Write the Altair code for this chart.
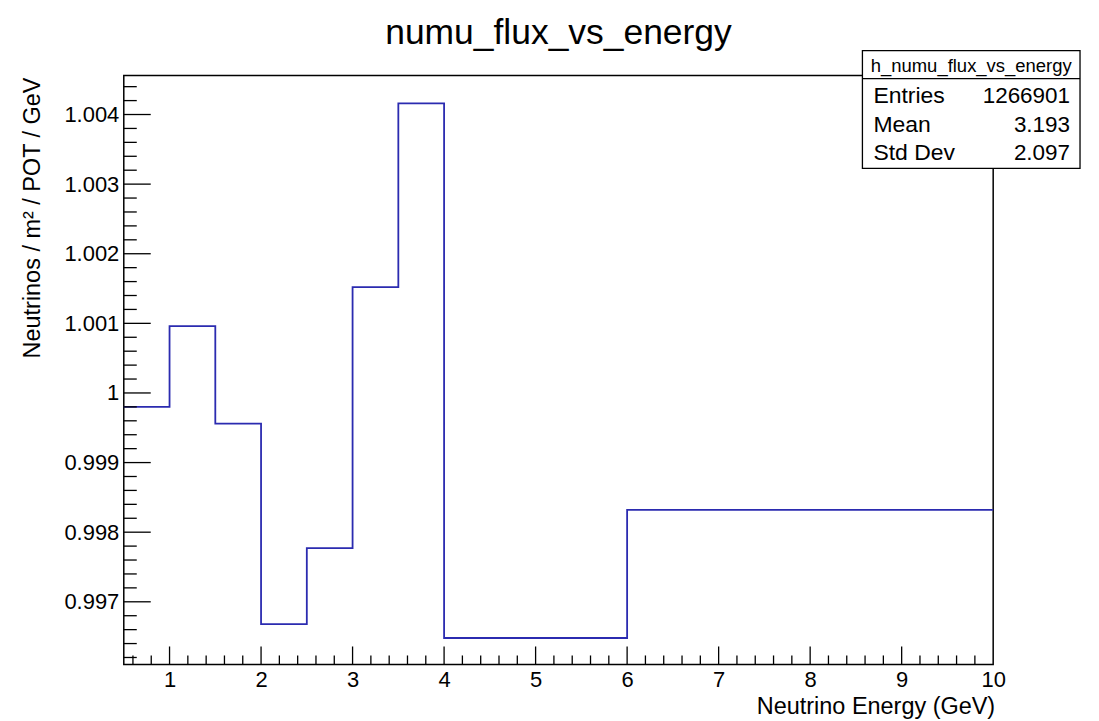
import altair as alt
import pandas as pd

# ---- data ----
bin_edges = [0.5, 1.0, 1.5, 2.0, 2.5, 3.0, 3.5, 4.0, 6.0, 10.0]
bin_values = [0.99980, 1.00096, 0.99956, 0.99668, 0.99777, 1.00152, 1.00416, 0.99648, 0.99832]

x_major = [1, 2, 3, 4, 5, 6, 7, 8, 9]
x_labels = [1, 2, 3, 4, 5, 6, 7, 8, 9, 10]
y_major = [0.997, 0.998, 0.999, 1.000, 1.001, 1.002, 1.003, 1.004]

stat_names = ["Entries", "Mean", "Std Dev"]
stat_values = ["1266901", "3.193", "2.097"]
hist_name = "h_numu_flux_vs_energy"
title_text = "numu_flux_vs_energy"

X_DOMAIN = [0.5, 10.0]
Y_DOMAIN = [0.99610, 1.00456]
W, H = 871, 590
FONT = "Liberation Sans"

x_minor = [round(0.6 + 0.2 * i, 1) for i in range(48)]
x_minor = [v for v in x_minor if abs(v - round(v)) > 1e-6 and v < 10]
y_minor = [round(0.9962 + 0.0002 * i, 4) for i in range(43)]
y_minor = [v for v in y_minor if v <= Y_DOMAIN[1] and abs(v * 1000 - round(v * 1000)) > 1e-6]

# step data: left edge of each bin, plus the final right edge
step_df = pd.DataFrame({
    "E": bin_edges,
    "flux": bin_values + [bin_values[-1]],
})

xs = alt.Scale(domain=X_DOMAIN, nice=False, zero=False)
ys = alt.Scale(domain=Y_DOMAIN, nice=False, zero=False)

base_x_axis = alt.Axis(values=x_labels, ticks=False, domain=False, grid=False,
                       labelFont=FONT, labelFontSize=22, labelColor="black",
                       labelPadding=5, title=None, labelFlush=False,
                       labelOverlap=False, format="d")
base_y_axis = alt.Axis(values=y_major, ticks=False, domain=False, grid=False,
                       labelFont=FONT, labelFontSize=22, labelColor="black",
                       labelPadding=5, title=None, labelFlush=False,
                       labelOverlap=False,
                       labelExpr="datum.value == 1 ? '1' : format(datum.value, '.3f')")

line = alt.Chart(step_df).mark_line(
    interpolate="step-after", color="#2b2bb0", strokeWidth=1.8
).encode(
    x=alt.X("E:Q", scale=xs, axis=base_x_axis),
    y=alt.Y("flux:Q", scale=ys, axis=base_y_axis),
)

xmaj = alt.Chart(pd.DataFrame({"v": x_major})).mark_rule(color="black", strokeWidth=1.3).encode(
    x=alt.X("v:Q", scale=xs), y=alt.value(H), y2=alt.value(H - 18))
xmin = alt.Chart(pd.DataFrame({"v": x_minor})).mark_rule(color="black", strokeWidth=1.3).encode(
    x=alt.X("v:Q", scale=xs), y=alt.value(H), y2=alt.value(H - 9))
ymaj = alt.Chart(pd.DataFrame({"v": y_major})).mark_rule(color="black", strokeWidth=1.3).encode(
    y=alt.Y("v:Q", scale=ys), x=alt.value(0), x2=alt.value(27))
ymin = alt.Chart(pd.DataFrame({"v": y_minor})).mark_rule(color="black", strokeWidth=1.3).encode(
    y=alt.Y("v:Q", scale=ys), x=alt.value(0), x2=alt.value(13))


def text_layer(txt, x, y, size, align="left", angle=None):
    kw = dict(font=FONT, fontSize=size, align=align, baseline="alphabetic", color="black")
    if angle is not None:
        kw["angle"] = angle
    return alt.Chart(pd.DataFrame({"t": [txt]})).mark_text(**kw).encode(
        text="t:N", x=alt.value(x), y=alt.value(y))


title = text_layer(title_text, W / 2, -32, 35.5, "center")
xtitle = text_layer("Neutrino Energy (GeV)", W + 2, 640, 23.5, "right")
ytitle = text_layer("Neutrinos / m² / POT / GeV", -84, 2, 23.5, "right", 270)

# stats box
box = alt.Chart(pd.DataFrame({"a": [0]})).mark_rect(
    fill="white", stroke="black", strokeWidth=1.3
).encode(x=alt.value(740), x2=alt.value(958), y=alt.value(-25), y2=alt.value(93))
divider = alt.Chart(pd.DataFrame({"a": [0]})).mark_rule(color="black", strokeWidth=1.3).encode(
    x=alt.value(740), x2=alt.value(958), y=alt.value(3))
header = text_layer(hist_name, 849, -4, 18.5, "center")

row_y = [28, 56.5, 84.5]
stat_layers = []
for name, val, ry in zip(stat_names, stat_values, row_y):
    stat_layers.append(text_layer(name, 751, ry, 23, "left"))
    stat_layers.append(text_layer(val, 948, ry, 22.5, "right"))

chart = alt.layer(
    line, xmaj, xmin, ymaj, ymin, title, xtitle, ytitle,
    box, divider, header, *stat_layers
).properties(
    width=W, height=H,
    autosize=alt.AutoSizeParams(type="none"),
    padding={"left": 116, "top": 67, "right": 98, "bottom": 55},
    background="white",
).configure_view(stroke="black", strokeWidth=1.5)

chart.save("out.html", embed_options={"renderer": "svg", "actions": False})
